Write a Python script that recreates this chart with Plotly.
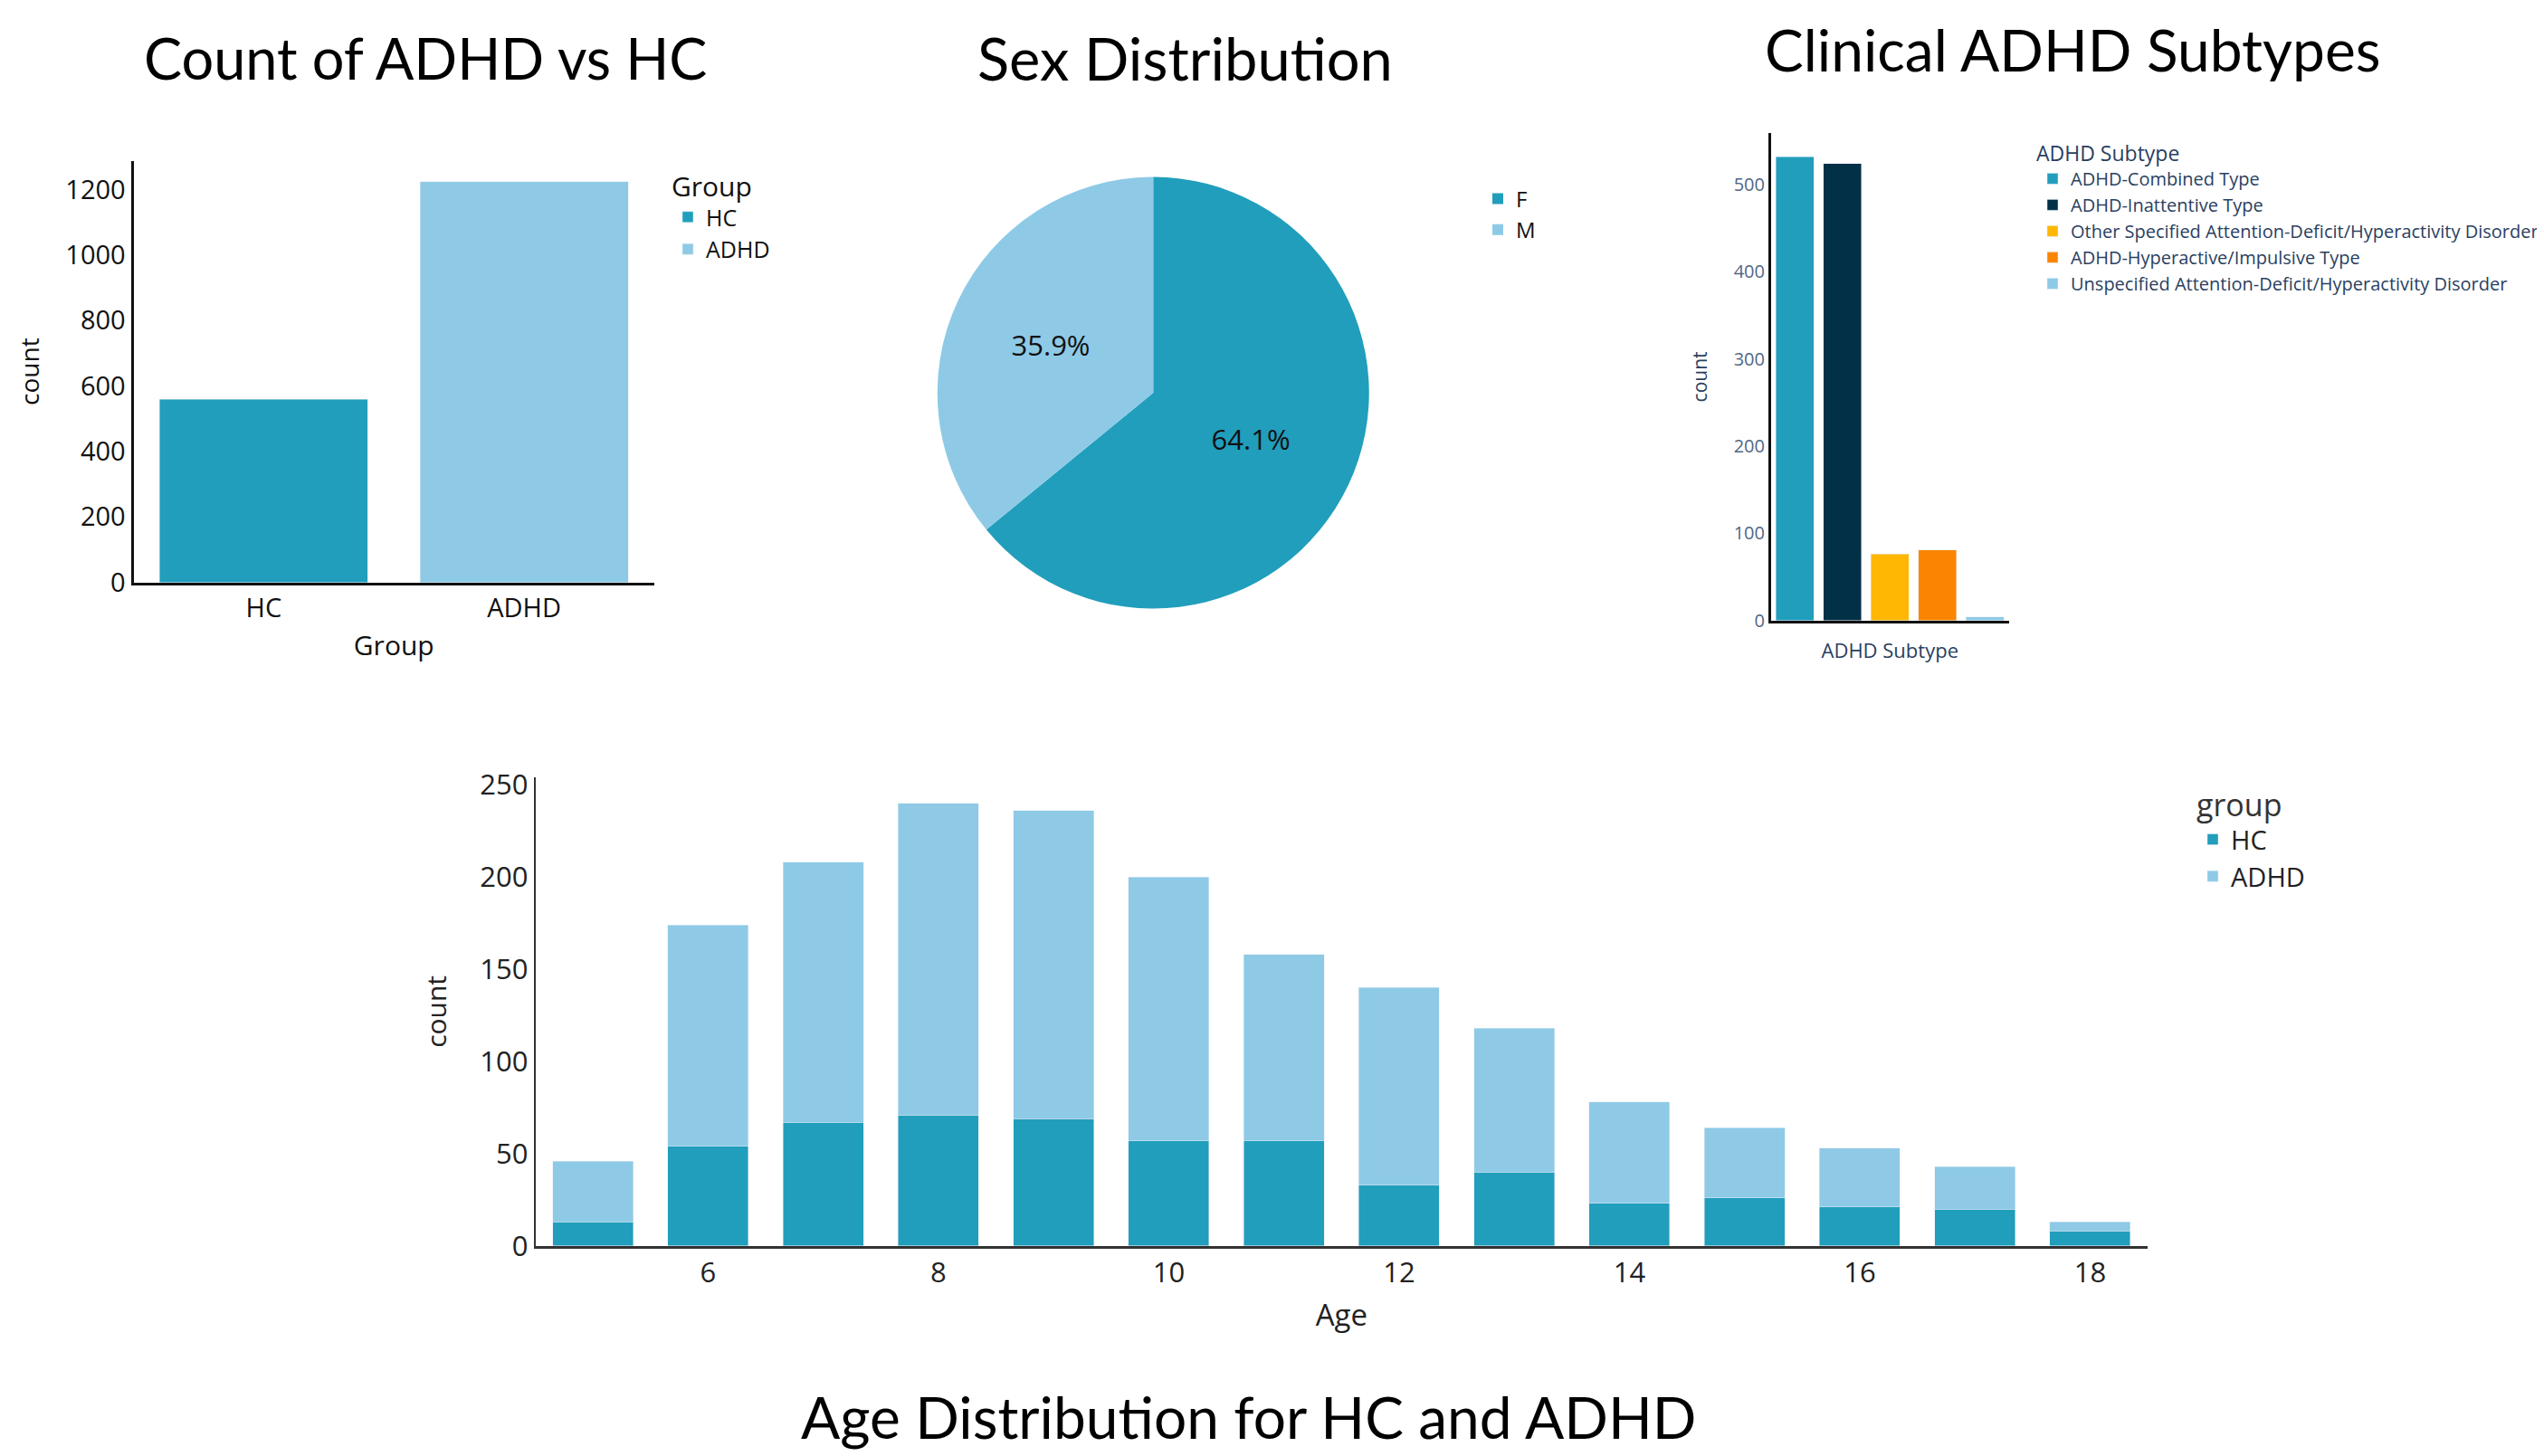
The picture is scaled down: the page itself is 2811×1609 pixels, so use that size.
import plotly.graph_objects as go

W, H = 2811, 1609
OFF = 8  # page body margin

# ---------------- data ----------------
groups = ["HC", "ADHD"]
group_counts = [560, 1224]

sex_labels = ["F", "M"]
sex_counts = [1143, 641]

subtypes = [
    "ADHD-Combined Type",
    "ADHD-Inattentive Type",
    "Other Specified Attention-Deficit/Hyperactivity Disorder",
    "ADHD-Hyperactive/Impulsive Type",
    "Unspecified Attention-Deficit/Hyperactivity Disorder",
]
subtype_counts = [532, 524, 76, 81, 4]

ages = [5, 6, 7, 8, 9, 10, 11, 12, 13, 14, 15, 16, 17, 18]
age_hc = [13, 54, 67, 71, 69, 57, 57, 33, 40, 23, 26, 21, 20, 8]
age_adhd = [33, 120, 141, 169, 167, 143, 101, 107, 78, 55, 38, 32, 23, 5]

# ---------------- styles ----------------
C_HC = "#219ebc"
C_ADHD = "#8ecae6"
subtype_colors = ["#219ebc", "#023047", "#ffb703", "#fb8500", "#8ecae6"]
FONT = "Open Sans"
TITLE_FONT = "Lato"


def fx(px):
    return (px - OFF) / W


def fy(py):
    return 1 - (py - OFF) / H


fig = go.Figure()

# Chart 1: Count of ADHD vs HC
for g, c, col in zip(groups, group_counts, [C_HC, C_ADHD]):
    fig.add_trace(go.Bar(x=[g], y=[c], name=g, marker_color=col, width=0.8,
                         xaxis="x", yaxis="y", legend="legend"))

# Chart 2: Sex pie
fig.add_trace(go.Pie(labels=sex_labels, values=sex_counts,
                     marker=dict(colors=[C_HC, C_ADHD]),
                     textinfo="percent", textfont=dict(size=31, color="#111", family=FONT),
                     domain=dict(x=[fx(1035.7), fx(1512.8)], y=[fy(672.6), fy(195.6)]),
                     legend="legend2", sort=True, direction="clockwise"))

# Chart 3: subtypes
for s, c, col in zip(subtypes, subtype_counts, subtype_colors):
    fig.add_trace(go.Bar(x=[s], y=[c], name=s, marker_color=col, width=0.8,
                         xaxis="x2", yaxis="y2", legend="legend3"))

# Chart 4: Age distribution (stacked)
fig.add_trace(go.Bar(x=ages, y=age_hc, name="HC", marker_color=C_HC, width=0.7,
                     xaxis="x3", yaxis="y3", legend="legend4"))
fig.add_trace(go.Bar(x=ages, y=age_adhd, name="ADHD", marker_color=C_ADHD, width=0.7,
                     xaxis="x3", yaxis="y3", legend="legend4"))

black_axis = dict(showgrid=False, zeroline=False, showline=True, linecolor="#111",
                  linewidth=3, ticks="", automargin=False,
                  tickfont=dict(size=29, color="#111", family=FONT))

fig.update_layout(
    width=W, height=H,
    margin=dict(l=0, r=0, t=0, b=0, autoexpand=False),
    paper_bgcolor="white", plot_bgcolor="white",
    barmode="stack",
    font=dict(family=FONT),
    xaxis=dict(black_axis, domain=[fx(147.5), fx(723)], anchor="y",
               title=dict(text="Group", font=dict(size=30, color="#111"), standoff=15),
               range=[-0.5, 1.5]),
    yaxis=dict(black_axis, domain=[fy(643.7), fy(177.6)], anchor="x",
               range=[0, 1288], dtick=200,
               title=dict(text="count", font=dict(size=28, color="#111"), standoff=21)),
    xaxis2=dict(showgrid=False, zeroline=False, showline=True, linecolor="#111", linewidth=3,
                ticks="", showticklabels=False, automargin=False,
                domain=[fx(1957), fx(2219.5)], anchor="y2", range=[-0.5, 4.5],
                title=dict(text="ADHD Subtype", font=dict(size=22, color="#2a3f5f"), standoff=24)),
    yaxis2=dict(showgrid=False, zeroline=False, showline=True, linecolor="#111", linewidth=3,
                ticks="", tickfont=dict(size=20, color="#506784"), automargin=False,
                domain=[fy(685.7), fy(147.2)], anchor="x2", range=[0, 559], dtick=100,
                title=dict(text="count", font=dict(size=21, color="#2a3f5f"), standoff=24)),
    xaxis3=dict(showgrid=False, zeroline=False, showline=True, linecolor="#333", linewidth=3,
                ticks="", tickfont=dict(size=31, color="#222"), automargin=False,
                domain=[fx(591.6), fx(2373)], anchor="y3", range=[4.5, 18.5],
                tickmode="array", tickvals=[6, 8, 10, 12, 14, 16, 18],
                title=dict(text="Age", font=dict(size=33, color="#222"), standoff=17)),
    yaxis3=dict(showgrid=False, zeroline=False, showline=True, linecolor="#333", linewidth=2,
                ticks="", tickfont=dict(size=31, color="#222"), automargin=False,
                domain=[fy(1376.8), fy(859)], anchor="x3", range=[0, 254], dtick=50,
                title=dict(text="count", font=dict(size=30, color="#222"), standoff=28)),
    legend=dict(x=fx(740), y=fy(178), xanchor="left", yanchor="top", traceorder="normal",
                title=dict(text="Group", font=dict(size=30, color="#111")),
                font=dict(size=25, color="#111"), bgcolor="rgba(0,0,0,0)"),
    legend2=dict(x=fx(1635), y=fy(197.5), xanchor="left", yanchor="top", traceorder="normal",
                 font=dict(size=24, color="#111"), bgcolor="rgba(0,0,0,0)"),
    legend3=dict(x=fx(2248), y=fy(148), xanchor="left", yanchor="top", traceorder="normal",
                 title=dict(text="ADHD Subtype", font=dict(size=23, color="#2a3f5f")),
                 font=dict(size=20, color="#2a3f5f"), bgcolor="rgba(0,0,0,0)"),
    legend4=dict(x=fx(2425), y=fy(858), xanchor="left", yanchor="top", traceorder="normal",
                 title=dict(text="group", font=dict(size=34, color="#333")),
                 font=dict(size=29, color="#222"), bgcolor="rgba(0,0,0,0)"),
    showlegend=True,
)

titles = [
    ("Count of ADHD vs HC", 469.7, 63.6, 63),
    ("Sex Distribution", 1309.6, 63.6, 65),
    ("Clinical ADHD Subtypes", 2290, 54.5, 64),
    ("Age Distribution for HC and ADHD", 1379.6, 1565, 64),
]
for text, x, y, size in titles:
    fig.add_annotation(text=text, x=fx(x), y=fy(y), xref="paper", yref="paper",
                       xanchor="center", yanchor="middle", showarrow=False,
                       font=dict(family=TITLE_FONT, size=size, color="#000"))

fig.write_html("out.html")
